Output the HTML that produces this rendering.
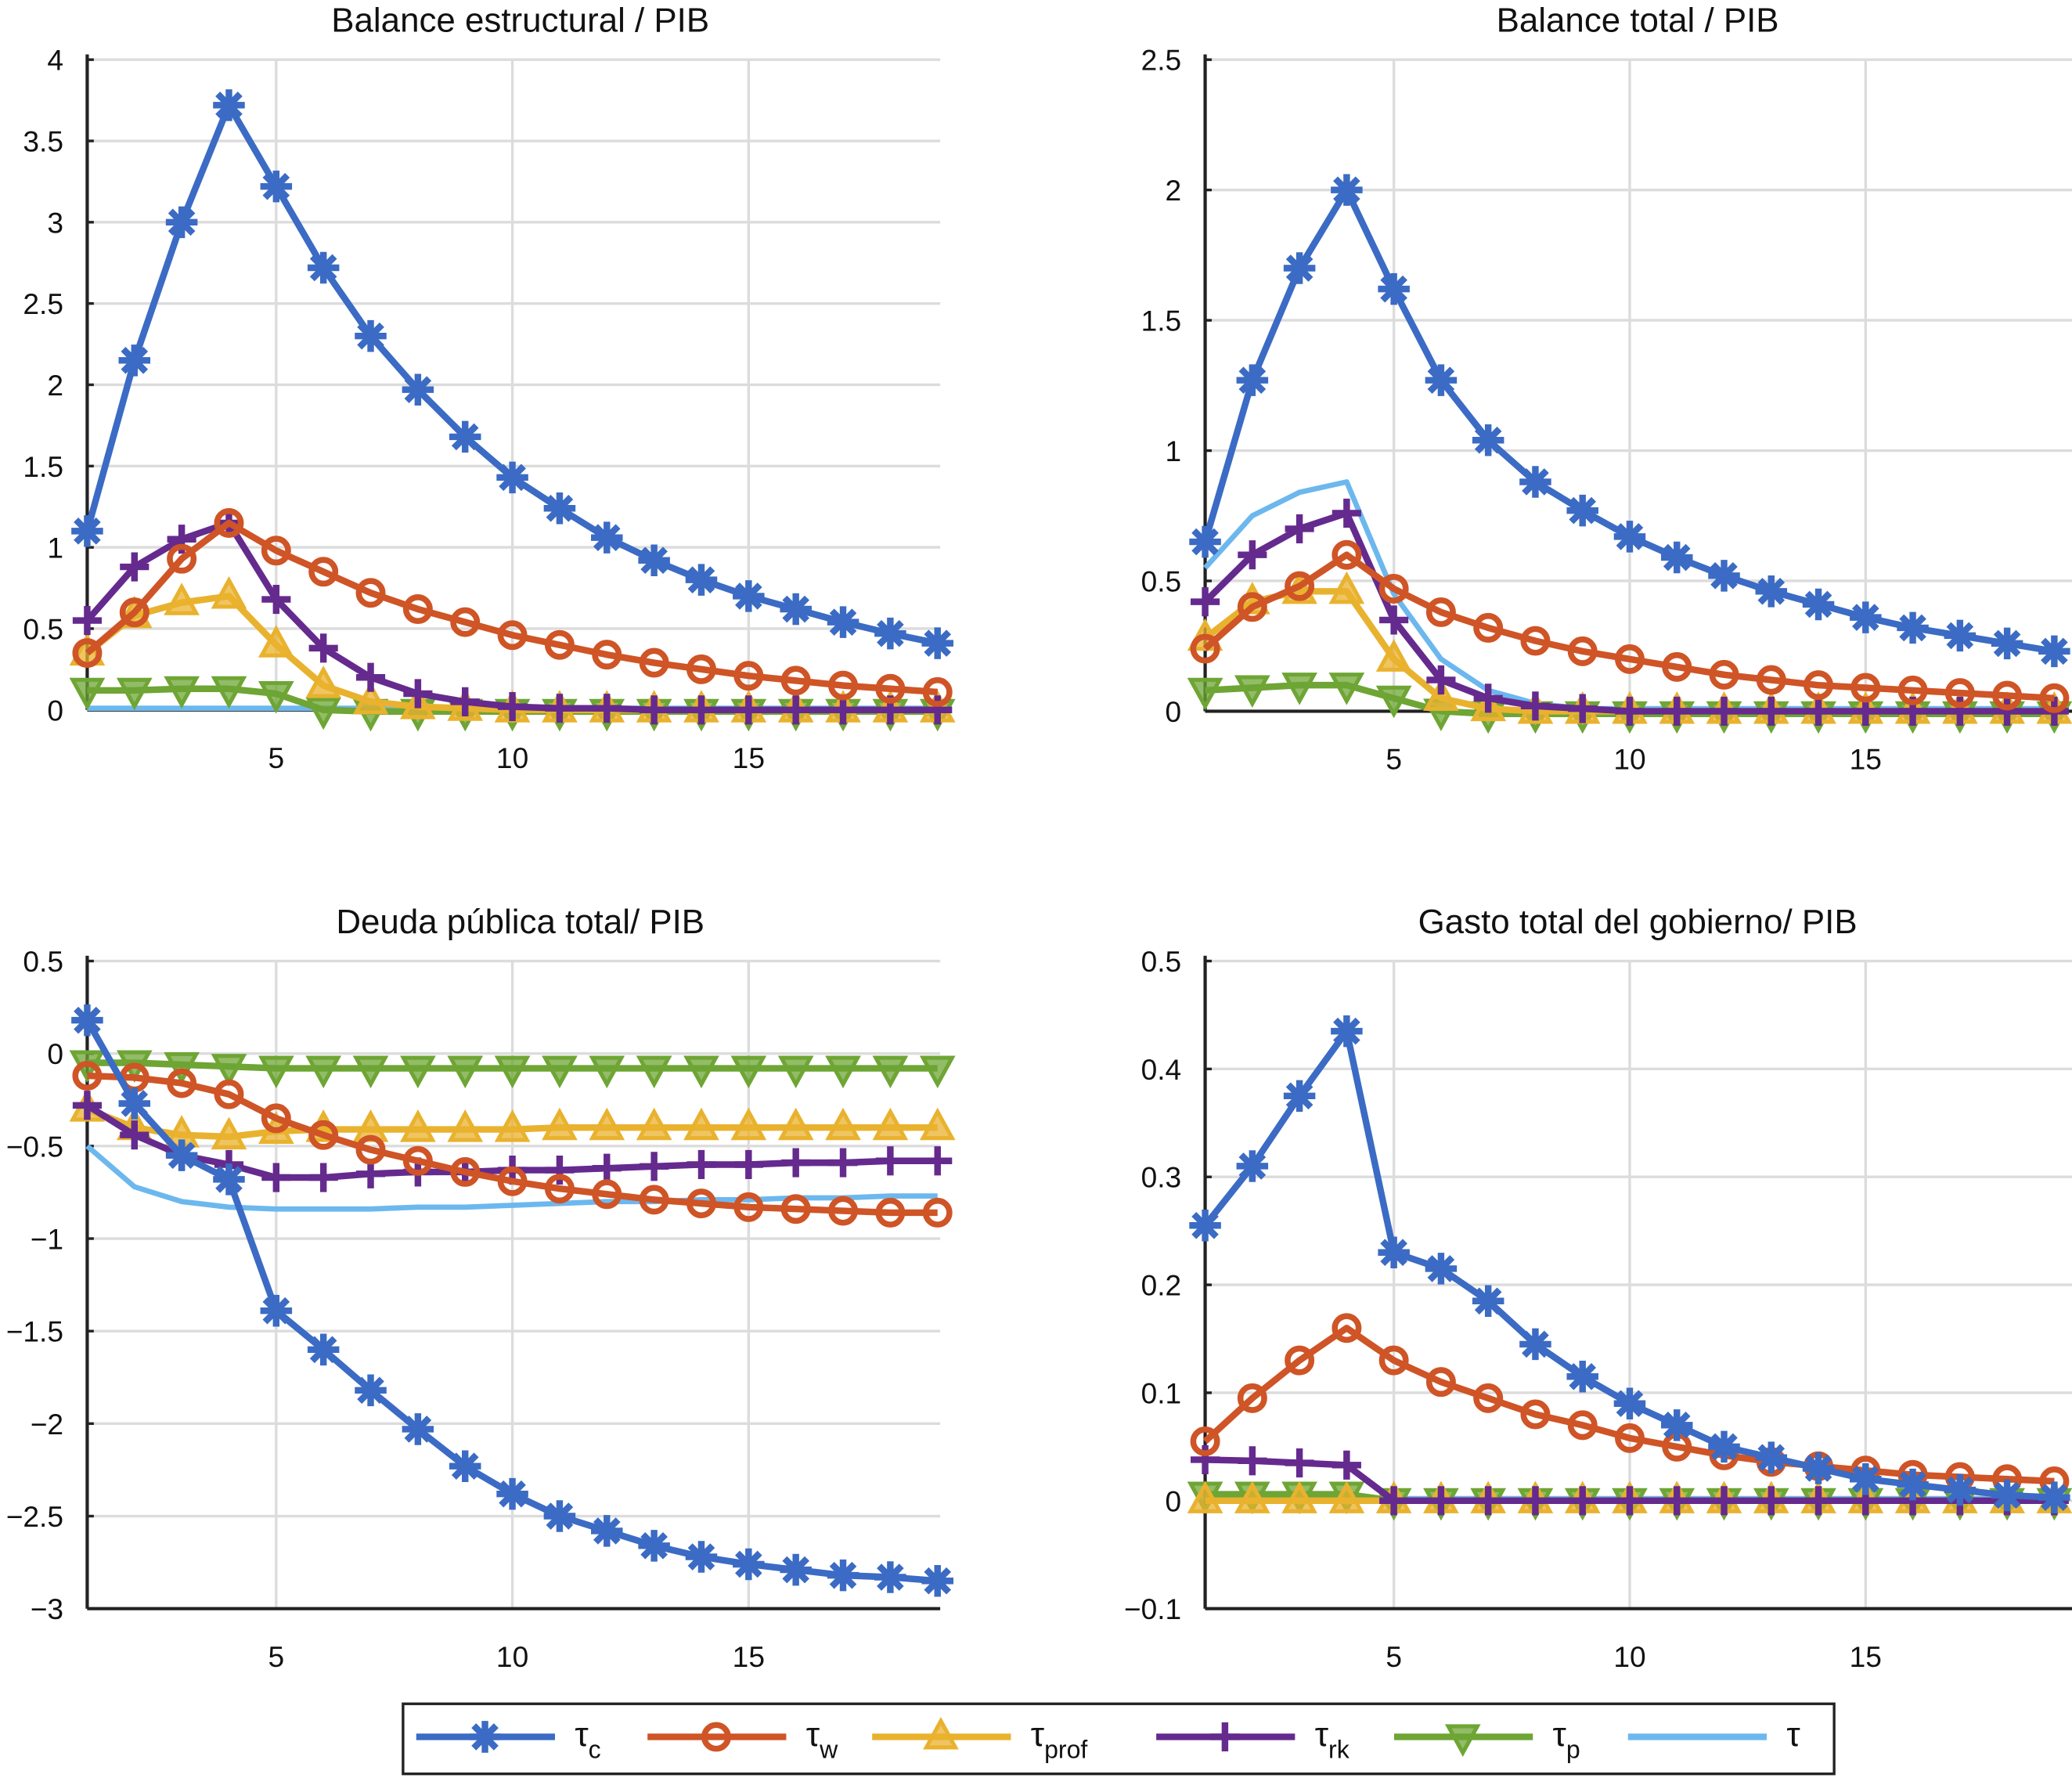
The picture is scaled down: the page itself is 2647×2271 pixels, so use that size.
<!DOCTYPE html>
<html><head><meta charset="utf-8"><style>
html,body{margin:0;padding:0;background:#fff;}
svg{display:block;font-family:"Liberation Sans",sans-serif;}
</style></head><body>
<svg id="chart" width="2647" height="2271" viewBox="0 0 1568 1345" xmlns="http://www.w3.org/2000/svg"></svg>
<script>
const periods=[1,2,3,4,5,6,7,8,9,10,11,12,13,14,15,16,17,18,19];
const seriesNames=["tc","tw","tprof","trk","tp","tau"];
// Panel 1: Balance estructural / PIB
const p1_tc=[1.1,2.15,3.0,3.72,3.22,2.72,2.3,1.97,1.68,1.43,1.24,1.06,0.92,0.8,0.7,0.62,0.54,0.47,0.41];
const p1_tw=[0.35,0.6,0.93,1.15,0.98,0.85,0.72,0.62,0.54,0.46,0.4,0.34,0.29,0.25,0.21,0.18,0.15,0.13,0.11];
const p1_tprof=[0.35,0.58,0.66,0.7,0.4,0.15,0.05,0.02,0.01,0,0,0,0,0,0,0,0,0,0];
const p1_trk=[0.55,0.88,1.05,1.15,0.68,0.38,0.2,0.1,0.05,0.02,0.01,0.01,0,0,0,0,0,0,0];
const p1_tp=[0.12,0.12,0.13,0.13,0.1,0.0,-0.01,-0.01,-0.01,-0.01,-0.01,-0.01,-0.01,-0.01,-0.01,-0.01,-0.01,-0.01,-0.01];
const p1_tau=[0.01,0.01,0.01,0.01,0.01,0.01,0.01,0.01,0.01,0.01,0.01,0.01,0.01,0.01,0.01,0.01,0.01,0.01,0.01];
const p1_yticks=[0,0.5,1,1.5,2,2.5,3,3.5,4];
// Panel 2: Balance total / PIB
const p2_tc=[0.65,1.27,1.7,2.0,1.62,1.27,1.04,0.88,0.77,0.67,0.59,0.52,0.46,0.41,0.36,0.32,0.29,0.26,0.23];
const p2_tw=[0.24,0.4,0.48,0.6,0.47,0.38,0.32,0.27,0.23,0.2,0.17,0.14,0.12,0.1,0.09,0.08,0.07,0.06,0.05];
const p2_tprof=[0.28,0.42,0.46,0.46,0.2,0.05,0.01,0,0,0,0,0,0,0,0,0,0,0,0];
const p2_trk=[0.42,0.6,0.7,0.76,0.35,0.12,0.05,0.02,0.01,0,0,0,0,0,0,0,0,0,0];
const p2_tp=[0.08,0.09,0.1,0.1,0.05,0,-0.01,-0.01,-0.01,-0.01,-0.01,-0.01,-0.01,-0.01,-0.01,-0.01,-0.01,-0.01,-0.01];
const p2_tau=[0.55,0.75,0.84,0.88,0.45,0.2,0.08,0.03,0.01,0.01,0.01,0.01,0.01,0.01,0.01,0.01,0.01,0.01,0.01];
const p2_yticks=[0,0.5,1,1.5,2,2.5];
// Panel 3: Deuda pública total / PIB
const p3_tc=[0.18,-0.27,-0.55,-0.68,-1.39,-1.6,-1.82,-2.03,-2.23,-2.38,-2.5,-2.58,-2.66,-2.72,-2.76,-2.79,-2.82,-2.83,-2.85];
const p3_tw=[-0.12,-0.13,-0.16,-0.22,-0.35,-0.44,-0.52,-0.58,-0.64,-0.69,-0.73,-0.76,-0.79,-0.81,-0.83,-0.84,-0.85,-0.86,-0.86];
const p3_tprof=[-0.3,-0.4,-0.44,-0.45,-0.42,-0.41,-0.41,-0.41,-0.41,-0.41,-0.4,-0.4,-0.4,-0.4,-0.4,-0.4,-0.4,-0.4,-0.4];
const p3_trk=[-0.28,-0.44,-0.55,-0.6,-0.67,-0.67,-0.65,-0.64,-0.64,-0.63,-0.63,-0.62,-0.61,-0.6,-0.6,-0.59,-0.59,-0.58,-0.58];
const p3_tp=[-0.05,-0.05,-0.06,-0.07,-0.08,-0.08,-0.08,-0.08,-0.08,-0.08,-0.08,-0.08,-0.08,-0.08,-0.08,-0.08,-0.08,-0.08,-0.08];
const p3_tau=[-0.5,-0.72,-0.8,-0.83,-0.84,-0.84,-0.84,-0.83,-0.83,-0.82,-0.81,-0.8,-0.8,-0.79,-0.79,-0.78,-0.78,-0.77,-0.77];
const p3_yticks=[-3,-2.5,-2,-1.5,-1,-0.5,0,0.5];
// Panel 4: Gasto total del gobierno / PIB
const p4_tc=[0.255,0.31,0.375,0.435,0.23,0.215,0.185,0.145,0.115,0.09,0.07,0.05,0.04,0.03,0.02,0.015,0.01,0.005,0.003];
const p4_tw=[0.055,0.095,0.13,0.16,0.13,0.11,0.095,0.08,0.07,0.058,0.05,0.042,0.036,0.032,0.028,0.024,0.022,0.02,0.018];
const p4_tprof=[0,0,0,0,0,0,0,0,0,0,0,0,0,0,0,0,0,0,0];
const p4_trk=[0.038,0.037,0.035,0.033,0,0,0,0,0,0,0,0,0,0,0,0,0,0,0];
const p4_tp=[0.006,0.006,0.006,0.006,0,0,0,0,0,0,0,0,0,0,0,0,0,0,0];
const p4_tau=[0.002,0.002,0.002,0.002,0.002,0.002,0.002,0.002,0.002,0.002,0.002,0.002,0.002,0.002,0.002,0.002,0.002,0.002,0.002];
const p4_yticks=[-0.1,0,0.1,0.2,0.3,0.4,0.5];
const xticks=[5,10,15];

const NS="http://www.w3.org/2000/svg";
const svg=document.getElementById('chart');
const colors={tc:"#3b6bc4",tw:"#cf5426",tprof:"#e9b22e",trk:"#652a8e",tp:"#6ea534",tau:"#6cb8ee"};
function el(tag,attrs,parent){const e=document.createElementNS(NS,tag);for(const k in attrs)e.setAttribute(k,attrs[k]);(parent||svg).appendChild(e);return e;}

function marker(g,type,x,y,c){
  if(type==="tc"){
    const r=12;
    for(let i=0;i<4;i++){const a=i*Math.PI/4;
      el('line',{x1:x-r*Math.cos(a),y1:y-r*Math.sin(a),x2:x+r*Math.cos(a),y2:y+r*Math.sin(a),stroke:c,'stroke-width':5},g);}
    el('circle',{cx:x,cy:y,r:5,fill:c},g);
  }else if(type==="tw"){
    el('circle',{cx:x,cy:y,r:9,fill:'none',stroke:c,'stroke-width':4.5},g);
  }else if(type==="tprof"){
    el('polygon',{points:`${x},${y-12} ${x-11},${y+8} ${x+11},${y+8}`,fill:c,'fill-opacity':0.75,stroke:c,'stroke-width':3},g);
  }else if(type==="trk"){
    el('line',{x1:x-11,y1:y,x2:x+11,y2:y,stroke:c,'stroke-width':5},g);
    el('line',{x1:x,y1:y-11,x2:x,y2:y+11,stroke:c,'stroke-width':5},g);
  }else if(type==="tp"){
    el('polygon',{points:`${x},${y+12} ${x-11},${y-8} ${x+11},${y-8}`,fill:c,'fill-opacity':0.75,stroke:c,'stroke-width':3},g);
  }
}

function panel(name,title,x0,step,rightExtra,yTop,yBot,ymin,ymax,yticks,data){
  const g=el('g',{});
  
  
  const xs=v=>x0+(v-1)*step;
  const ys=v=>yBot-(v-ymin)/(ymax-ymin)*(yBot-yTop);
  const right=xs(19)+rightExtra;
  const t=el('text',{x:(x0+xs(19))/2+6,y:yTop-21,'text-anchor':'middle','font-size':26,fill:'#111'},g);
  t.textContent=title;
  
  
  const grid=el('g',{},g);
  
  
  yticks.forEach(v=>{
    el('line',{x1:x0,x2:right,y1:ys(v),y2:ys(v),stroke:'#dcdcdc','stroke-width':2},grid);
    const lt=el('text',{x:x0-18,y:ys(v)+8,'text-anchor':'end','font-size':22,fill:'#111'},g);
    lt.textContent=(v<0?'\u2212'+Math.abs(v):String(v));
    
    
    el('line',{x1:x0,x2:x0+5,y1:ys(v),y2:ys(v),stroke:'#222','stroke-width':2},g);
  });
  xticks.forEach(v=>{
    el('line',{x1:xs(v),x2:xs(v),y1:yTop,y2:yBot,stroke:'#dcdcdc','stroke-width':2},grid);
    const lt=el('text',{x:xs(v),y:yBot+44,'text-anchor':'middle','font-size':22,fill:'#111'},g);
    lt.textContent=String(v);
    
    
  });
  el('line',{x1:x0,x2:x0,y1:yTop-4,y2:yBot,stroke:'#222','stroke-width':2.5},g);
  el('line',{x1:x0,x2:right,y1:yBot,y2:yBot,stroke:'#222','stroke-width':2.5},g);
  const order=["tau","tp","tprof","trk","tw","tc"];
  order.forEach(k=>{
    const vals=data[k];
    const sg=el('g',{},g);
    
    
    const pts=periods.map((p,i)=>xs(p)+','+ys(vals[i])).join(' ');
    el('polyline',{points:pts,fill:'none',stroke:colors[k],'stroke-width':k==="tau"?4:5,'stroke-linejoin':'round'},sg);
    if(k!=="tau") periods.forEach((p,i)=>marker(sg,k,xs(p),ys(vals[i]),colors[k]));
  });
}

panel('panel-balance-estructural','Balance estructural / PIB',66,35.75,2,45,537,0,4,p1_yticks,
  {tc:p1_tc,tw:p1_tw,tprof:p1_tprof,trk:p1_trk,tp:p1_tp,tau:p1_tau});
panel('panel-balance-total','Balance total / PIB',912,35.7,20,45,538,0,2.5,p2_yticks,
  {tc:p2_tc,tw:p2_tw,tprof:p2_tprof,trk:p2_trk,tp:p2_tp,tau:p2_tau});
panel('panel-deuda-publica','Deuda pública total/ PIB',66,35.75,2,727,1217,-3,0.5,p3_yticks,
  {tc:p3_tc,tw:p3_tw,tprof:p3_tprof,trk:p3_trk,tp:p3_tp,tau:p3_tau});
panel('panel-gasto-gobierno','Gasto total del gobierno/ PIB',912,35.7,20,727,1217,-0.1,0.5,p4_yticks,
  {tc:p4_tc,tw:p4_tw,tprof:p4_tprof,trk:p4_trk,tp:p4_tp,tau:p4_tau});

// Legend
const lg=el('g',{});


el('rect',{x:305,y:1289,width:1083,height:53,fill:'#fff',stroke:'#222','stroke-width':2},lg);
const legLabels=[["tc","τ","c"],["tw","τ","w"],["tprof","τ","prof"],["trk","τ","rk"],["tp","τ","p"],["tau","τ",""]];
const legX=[315,490,660,875,1055,1232];
legLabels.forEach((L,i)=>{
  const eg=el('g',{},lg);
  
  
  const x=legX[i],y=1314;
  el('line',{x1:x,x2:x+105,y1:y,y2:y,stroke:colors[L[0]],'stroke-width':5},eg);
  if(L[0]!=="tau") marker(eg,L[0],x+52,y,colors[L[0]]);
  const t=el('text',{x:x+120,y:y+7,'font-size':26,fill:'#111'},eg);
  t.textContent=L[1];
  if(L[2]){const s=el('tspan',{'font-size':19,dy:9},t);s.textContent=L[2];}
});
</script>
</body></html>
